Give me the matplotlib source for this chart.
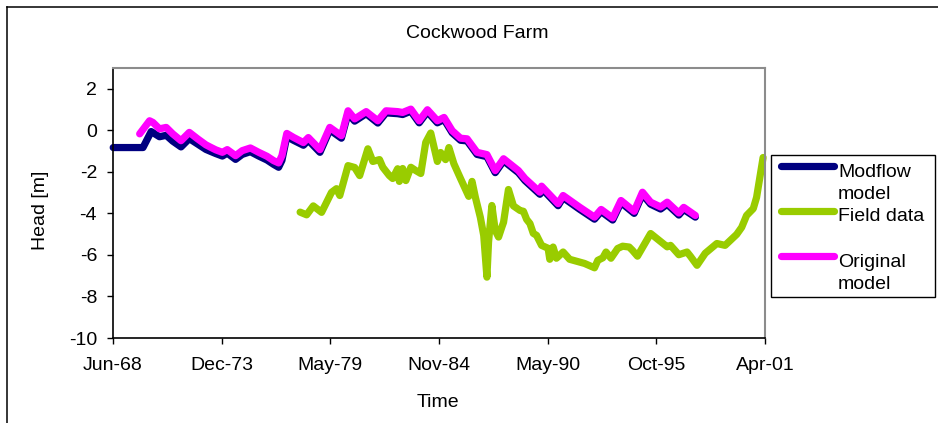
import numpy as np
import matplotlib
matplotlib.use("Agg")
import matplotlib.pyplot as plt
import matplotlib.dates as mdates
from matplotlib.lines import Line2D
from matplotlib.patches import Rectangle

plt.rcParams["font.family"] = ["Liberation Sans", "DejaVu Sans"]
plt.rcParams["axes.unicode_minus"] = False

# ---- data -------------------------------------------------------------
modflow_dates = [
    "1968-06", "1969-12", "1970-05", "1970-10", "1971-02", "1971-06", "1971-11",
    "1972-04", "1972-09", "1973-02", "1973-05", "1973-08", "1973-12", "1974-03",
    "1974-08", "1974-12", "1975-05", "1975-10", "1976-03", "1976-07", "1976-10",
    "1976-12", "1977-03", "1977-07", "1978-01", "1978-04", "1978-11", "1979-05",
    "1979-12", "1980-04", "1980-08", "1981-03", "1981-10", "1982-03", "1982-10",
    "1983-01", "1983-06", "1983-11", "1984-04", "1984-10", "1985-02", "1985-07",
    "1985-12", "1986-04", "1986-10", "1987-04", "1987-09", "1988-02", "1988-11",
    "1989-03", "1989-12", "1990-01", "1990-11", "1991-02", "1991-12", "1992-09",
    "1993-01", "1993-08", "1994-01", "1994-09", "1995-02", "1995-07", "1996-01",
    "1996-05", "1996-12", "1997-03", "1997-10",
]
modflow_head = [
    -0.83, -0.83, -0.06, -0.31, -0.24, -0.52, -0.80,
    -0.40, -0.66, -0.92, -1.02, -1.12, -1.24, -1.10,
    -1.40, -1.16, -1.03, -1.24, -1.43, -1.64, -1.78,
    -1.45, -0.30, -0.48, -0.72, -0.48, -1.06, 0.02,
    -0.38, 0.82, 0.44, 0.80, 0.35, 0.84, 0.80,
    0.76, 0.92, 0.36, 0.89, 0.36, 0.52, -0.12,
    -0.48, -0.51, -1.16, -1.27, -2.04, -1.47, -2.04,
    -2.42, -3.08, -2.79, -3.63, -3.24, -3.80, -4.28,
    -3.91, -4.32, -3.48, -4.00, -3.08, -3.56, -3.79,
    -3.56, -4.08, -3.81, -4.18,
]

field_dates = [
    "1977-11", "1978-03", "1978-07", "1978-12", "1979-06", "1979-09", "1979-11",
    "1980-04", "1980-08", "1980-11", "1981-04", "1981-07", "1981-11", "1982-01",
    "1982-05", "1982-07", "1982-10", "1982-11", "1983-01", "1983-03", "1983-06",
    "1983-09", "1983-12", "1984-03", "1984-06", "1984-10", "1984-12", "1985-03",
    "1985-05", "1985-08", "1985-12", "1986-05", "1986-07", "1986-09", "1986-12",
    "1987-02", "1987-04", "1987-05", "1987-07", "1987-09", "1987-11", "1988-01",
    "1988-02", "1988-05", "1988-08", "1988-12", "1989-02", "1989-04", "1989-06",
    "1989-08", "1989-10", "1990-01", "1990-05", "1990-06", "1990-08", "1990-10",
    "1991-02", "1991-06", "1992-03", "1992-09", "1992-11", "1993-02", "1993-04",
    "1993-07", "1993-11", "1994-02", "1994-06", "1994-08", "1994-11", "1995-07",
    "1996-05", "1996-07", "1996-12", "1997-05", "1997-07", "1997-11", "1998-04",
    "1998-11", "1999-04", "1999-11", "2000-02", "2000-05", "2000-09", "2000-11",
    "2001-03",
]
field_head = [
    -3.94, -4.07, -3.64, -3.95, -2.99, -2.81, -3.14,
    -1.70, -1.79, -2.18, -0.89, -1.50, -1.41, -1.78,
    -2.18, -2.32, -1.85, -2.46, -1.84, -2.42, -1.78,
    -1.94, -2.08, -0.58, -0.13, -1.50, -1.07, -1.41,
    -0.83, -1.61, -2.32, -3.18, -2.46, -3.23, -4.19,
    -5.06, -7.07, -5.38, -3.62, -4.82, -5.14, -4.66,
    -4.43, -2.85, -3.64, -3.86, -3.90, -4.29, -4.49,
    -4.96, -5.06, -5.54, -5.68, -6.21, -5.62, -6.16,
    -5.86, -6.21, -6.41, -6.62, -6.26, -6.14, -5.86,
    -6.16, -5.69, -5.58, -5.62, -5.78, -6.06, -4.97,
    -5.61, -5.54, -5.99, -5.86, -6.06, -6.50, -5.92,
    -5.45, -5.54, -5.01, -4.67, -4.10, -3.77, -3.23,
    -1.31,
]

original_dates = [
    "1969-10", "1970-04", "1970-06", "1970-10", "1971-02", "1971-06", "1971-11",
    "1972-04", "1972-09", "1973-02", "1973-05", "1973-08", "1973-12", "1974-03",
    "1974-08", "1974-12", "1975-05", "1975-10", "1976-03", "1976-07", "1976-10",
    "1976-12", "1977-03", "1977-07", "1978-01", "1978-04", "1978-11", "1979-05",
    "1979-12", "1980-04", "1980-08", "1981-03", "1981-10", "1982-03", "1982-10",
    "1983-01", "1983-06", "1983-11", "1984-04", "1984-10", "1985-02", "1985-07",
    "1985-12", "1986-04", "1986-10", "1987-04", "1987-09", "1988-02", "1988-11",
    "1989-03", "1989-12", "1990-01", "1990-11", "1991-02", "1991-12", "1992-09",
    "1993-01", "1993-08", "1994-01", "1994-09", "1995-02", "1995-07", "1996-01",
    "1996-05", "1996-12", "1997-03", "1997-10",
]
original_head = [
    -0.17, 0.46, 0.38, 0.07, 0.14, -0.17, -0.50,
    -0.10, -0.41, -0.70, -0.82, -0.94, -1.06, -0.93,
    -1.22, -0.98, -0.85, -1.06, -1.25, -1.46, -1.57,
    -1.22, -0.15, -0.34, -0.59, -0.35, -0.93, 0.14,
    -0.26, 0.94, 0.55, 0.90, 0.46, 0.94, 0.90,
    0.86, 1.02, 0.46, 0.99, 0.46, 0.62, -0.02,
    -0.38, -0.41, -1.06, -1.17, -1.94, -1.37, -1.94,
    -2.32, -2.98, -2.69, -3.53, -3.14, -3.70, -4.18,
    -3.81, -4.22, -3.38, -3.90, -2.98, -3.46, -3.69,
    -3.46, -3.98, -3.71, -4.10,
]

series_names = [["Modflow", "model"], ["Field data"], ["Original", "model"]]
series_colors = ["#000080", "#99CC00", "#FF00FF"]

title_text = "Cockwood Farm"
x_title = "Time"
y_title = "Head [m]"
y_ticks = [-10, -8, -6, -4, -2, 0, 2]


def to_dates(months):
    return np.array([np.datetime64(m + "-15") for m in months])


# date axis: spreadsheet serial days 25000 .. 37000, every 2000 days
serial_origin = np.datetime64("1899-12-30")
x_ticks = [serial_origin + np.timedelta64(int(d), "D") for d in range(25000, 37001, 2000)]

# ---- figure -----------------------------------------------------------
W, H = 938, 423
fig = plt.figure(figsize=(W / 100, H / 100), dpi=100)
fig.patch.set_facecolor("white")

# chart-area frame (extends past right and bottom edges)
fig.add_artist(Line2D([7 / W, 1.0], [1 - 7 / H, 1 - 7 / H], color="black", lw=1.1))
fig.add_artist(Line2D([7 / W, 7 / W], [0.0, 1 - 7 / H], color="black", lw=1.1))

ax = fig.add_axes([113 / W, 1 - 338 / H, 652 / W, 270 / H])

lw = 5.2
series = [
    (modflow_dates, modflow_head),
    (field_dates, field_head),
    (original_dates, original_head),
]
for (d, v), c in zip(series, series_colors):
    ax.plot(to_dates(d), v, color=c, lw=lw, solid_joinstyle="round",
            solid_capstyle="round", clip_on=False)

ax.set_xlim(x_ticks[0], x_ticks[-1])
ax.set_ylim(-10, 3)
ax.set_yticks(y_ticks)
ax.set_xticks(x_ticks)
ax.xaxis.set_major_formatter(mdates.DateFormatter("%b-%y"))

ax.tick_params(axis="both", direction="out", length=4.3, width=1.0,
               labelsize=14, colors="black")
ax.tick_params(axis="x", pad=9.5)
ax.tick_params(axis="y", pad=7.2)

for s in ("left", "bottom"):
    ax.spines[s].set_color("black")
    ax.spines[s].set_linewidth(1.2)
for s in ("top", "right"):
    ax.spines[s].set_color("#8c8c8c")
    ax.spines[s].set_linewidth(1.5)

# titles
fig.text(477 / W, 1 - 33 / H, title_text, ha="center", va="center", fontsize=14)
fig.text(438 / W, 1 - 402 / H, x_title, ha="center", va="center", fontsize=14)
fig.text(40 / W, 1 - 210 / H, y_title, ha="center", va="center",
         rotation=90, fontsize=14)

# legend box
fig.add_artist(Rectangle((771 / W, 1 - 297 / H), (935 - 771) / W, (297 - 155) / H,
                         transform=fig.transFigure, facecolor="white",
                         edgecolor="black", lw=1.0))
legend_rows = [166, 211, 256]
legend_baselines = [[177, 199], [221], [267, 289]]
for lines, c, yrow, bases in zip(series_names, series_colors, legend_rows,
                                 legend_baselines):
    fig.add_artist(Line2D([781 / W, 834 / W], [1 - yrow / H, 1 - yrow / H],
                          color=c, lw=lw, solid_capstyle="round"))
    for txt, yb in zip(lines, bases):
        fig.text(838 / W, 1 - yb / H, txt, ha="left", va="baseline", fontsize=14)

fig.savefig("out.png", dpi=100)
